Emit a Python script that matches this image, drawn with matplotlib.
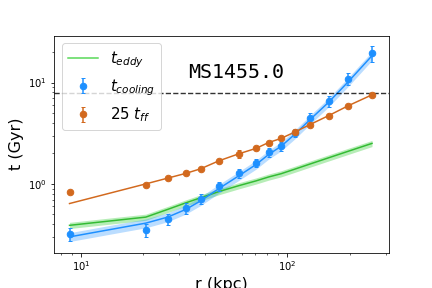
import matplotlib
matplotlib.use("Agg")
import matplotlib.pyplot as plt
import numpy as np

# radius bins (kpc)
r = [8.8, 20.6, 26.3, 32.2, 38.0, 46.6, 58.1, 70.4, 81.1, 93.2, 108.9, 128.6, 158.5, 197.3, 257.0]

# cooling time points + fit (Gyr)
t_cool = [0.318, 0.352, 0.449, 0.578, 0.708, 0.95, 1.27, 1.62, 2.05, 2.34, 3.21, 4.47, 6.51, 10.9, 19.5]
t_cool_err = [0.045, 0.05, 0.06, 0.07, 0.08, 0.10, 0.13, 0.16, 0.2, 0.25, 0.3, 0.5, 0.8, 1.5, 3.5]
t_cool_fit = [0.30, 0.41, 0.47, 0.56, 0.68, 0.90, 1.20, 1.55, 1.95, 2.35, 3.1, 4.3, 6.4, 10.2, 18.4]

# 25 t_ff points + fit
t_ff = [0.83, 0.98, 1.14, 1.27, 1.41, 1.69, 1.98, 2.24, 2.56, 2.81, 3.26, 3.85, 4.72, 5.91, 7.57]
t_ff_err = [0.03, 0.05, 0.04, 0.04, 0.05, 0.07, 0.18, 0.1, 0.1, 0.1, 0.12, 0.14, 0.15, 0.2, 0.25]
t_ff_fit = [0.64, 1.0, 1.14, 1.27, 1.41, 1.69, 1.98, 2.24, 2.56, 2.81, 3.26, 3.85, 4.72, 5.91, 7.57]

# eddy time
t_eddy = [0.39, 0.47, 0.56, 0.65, 0.73, 0.84, 0.96, 1.07, 1.17, 1.26, 1.40, 1.57, 1.81, 2.10, 2.51]

t_hline = 7.9

r = np.array(r)
fig, ax = plt.subplots(figsize=(6, 4), dpi=72)
plt.subplots_adjust(left=0.125, right=0.9, top=0.876, bottom=0.123)

eddy = np.array(t_eddy)
ax.fill_between(r, eddy * 0.93, eddy * 1.07, color="limegreen", alpha=0.35, lw=0)
ax.plot(r, eddy, color="#33bb33", lw=1.5)
ax.plot([], [], color="#55d855", lw=1.5, label=r"$t_{eddy}$")

cf = np.array(t_cool_fit)
ax.fill_between(r, cf * 0.9, cf * 1.1, color="dodgerblue", alpha=0.3, lw=0)
ax.plot(r, cf, color="dodgerblue", lw=1.5)
ax.errorbar(r, t_cool, yerr=t_cool_err, fmt="o", color="dodgerblue", ms=6.5, capsize=2, label=r"$t_{cooling}$")

ax.plot(r, t_ff_fit, color="chocolate", lw=1.5)
ax.errorbar(r, t_ff, yerr=t_ff_err, fmt="o", color="chocolate", ms=6.5, capsize=2, label=r"$25\ t_{ff}$")

ax.axhline(t_hline, color="k", ls="--", lw=1.4, alpha=0.8)

ax.set_xscale("log")
ax.set_yscale("log")
ax.set_xlim(7.4, 310)
ax.set_ylim(0.21, 29)
ax.set_xlabel("r (kpc)", fontsize=16)
ax.set_ylabel("t (Gyr)", fontsize=16)
ax.text(0.545, 0.83, "MS1455.0", transform=ax.transAxes, fontsize=20,
        family="DejaVu Sans Mono", ha="center", va="center")
ax.legend(loc="upper left", fontsize=15)

plt.savefig("out.png", dpi=72)
